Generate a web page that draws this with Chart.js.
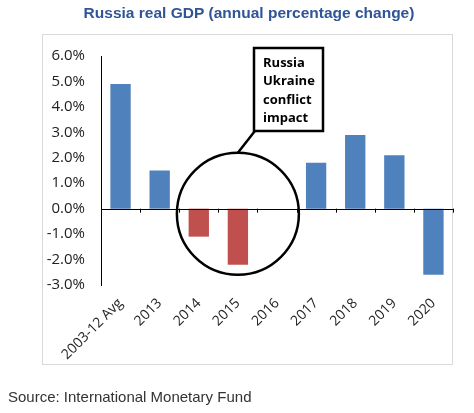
<!DOCTYPE html>
<html><head><meta charset="utf-8">
<script src="https://cdn.jsdelivr.net/npm/chart.js@4"></script>
<style>html,body{margin:0;padding:0;background:#fff}#c{display:block}</style>
</head><body>
<div style="width:474px;height:413px"><canvas id="c"></canvas></div>
<script>
const categories = ["2003-12 Avg","2013","2014","2015","2016","2017","2018","2019","2020"];
const gdpChange = [4.9,1.5,-1.1,-2.2,0,1.8,2.9,2.1,-2.6];
const barColors = ["#4F81BD","#4F81BD","#C0504D","#C0504D","#C0504D","#4F81BD","#4F81BD","#4F81BD","#4F81BD"];
const yTicks = [6,5,4,3,2,1,0,-1,-2,-3];

const deco = {
  id:'deco',
  afterDraw(chart){
    const ctx = chart.ctx, x = chart.scales.x, y = chart.scales.y, a = chart.chartArea;
    ctx.save();
    ctx.strokeStyle = '#d9d9d9'; ctx.lineWidth = 1;
    ctx.strokeRect(42.5, 34.5, 410, 330);
    const y0 = y.getPixelForValue(0);
    ctx.strokeStyle = '#000'; ctx.lineWidth = 1;
    ctx.beginPath(); ctx.moveTo(a.left, Math.round(y0)+0.5); ctx.lineTo(a.right, Math.round(y0)+0.5); ctx.stroke();
    const n = categories.length, w = (a.right - a.left)/n;
    for (let i=1;i<=n;i++){ const px = Math.round(a.left + i*w)+0.5; ctx.beginPath(); ctx.moveTo(px,y0); ctx.lineTo(px,y0+4); ctx.stroke(); }
    const cx = x.getPixelForValue(3), cy = y.getPixelForValue(-0.2);
    ctx.lineWidth = 2.5;
    ctx.beginPath(); ctx.arc(cx, cy, 61, 0, Math.PI*2); ctx.stroke();
    ctx.beginPath(); ctx.moveTo(cx, cy-61); ctx.lineTo(cx+17, 131); ctx.stroke();
    ctx.fillStyle='#fff'; ctx.fillRect(254,48,69,83);
    ctx.strokeRect(254,48,69,83);
    ctx.fillStyle='#000'; ctx.font='bold 13px "Open Sans", sans-serif'; ctx.textBaseline='middle';
    ["Russia","Ukraine","conflict","impact"].forEach((t,i)=>ctx.fillText(t,263,63+i*18.5));
    ctx.fillStyle='#2F5597'; ctx.font='bold 15.5px "Liberation Sans", Arial, sans-serif'; ctx.textAlign='center';
    ctx.fillText('Russia real GDP (annual percentage change)', 249, 14);
    ctx.fillStyle='#333'; ctx.font='15px "Liberation Sans", Arial, sans-serif'; ctx.textAlign='left';
    ctx.fillText('Source: International Monetary Fund', 8, 398);
    ctx.restore();
  }
};

new Chart(document.getElementById('c'), {
  type:'bar',
  data:{labels:categories, datasets:[{data:gdpChange, backgroundColor:barColors, barPercentage:0.52, categoryPercentage:1}]},
  options:{
    responsive:true, maintainAspectRatio:false, animation:false,
    layout:{padding:{top:56,left:0,right:21,bottom:0}},
    plugins:{legend:{display:false},tooltip:{enabled:false}},
    scales:{
      x:{grid:{display:false}, border:{display:false},
         ticks:{maxRotation:45,minRotation:45,color:'#222',font:{family:'"Open Sans", sans-serif',size:14},padding:2},
         afterFit(s){s.height=128;}},
      y:{min:-3,max:6,grid:{display:false},border:{display:true,color:'#000',width:1},
         afterBuildTicks(s){s.ticks=yTicks.map(v=>({value:v}));},
         ticks:{color:'#222',font:{family:'"Open Sans", sans-serif',size:15},padding:8,callback:v=>v.toFixed(1)+'%'},
         afterFit(s){s.width=101;}}
    }
  },
  plugins:[deco]
});
</script></body></html>
